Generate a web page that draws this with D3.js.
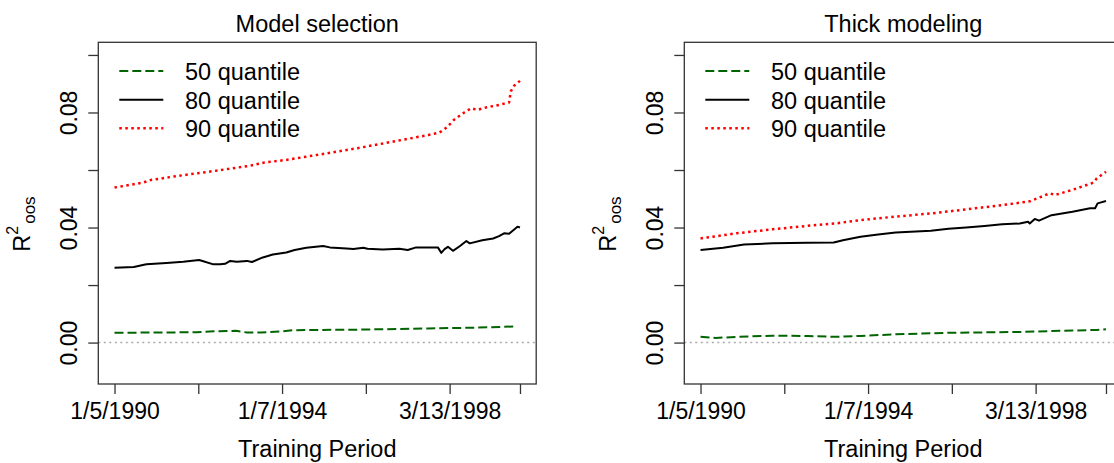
<!DOCTYPE html>
<html>
<head>
<meta charset="utf-8">
<script src="https://cdn.jsdelivr.net/npm/d3@7"></script>
<style>
  body { margin: 0; background: #fff; }
  svg text { font-family: "Liberation Sans", Arial, sans-serif; fill: #000; }
</style>
</head>
<body>
<div id="chart"></div>
<script>
// x positions are observation numbers (0 .. 484) along the training period
var nObs = 484;
var xTickIdx = [0, 100, 200, 300, 400, 484];
var xTickLabels = ["1/5/1990", "", "1/7/1994", "", "3/13/1998", ""];
var yTicks = [0, 0.02, 0.04, 0.06, 0.08, 0.10];
var yTickLabels = ["0.00", "", "0.04", "", "0.08", ""];

var titles = ["Model selection", "Thick modeling"];
var legendLabels = ["50 quantile", "80 quantile", "90 quantile"];

// Model selection
var msIdx50 = [0, 98, 119, 145, 158, 175, 200, 213, 290, 375, 430, 478];
var ms50 = [0.0034, 0.0036, 0.0039, 0.0041, 0.0035, 0.0035, 0.0039, 0.0043, 0.0045, 0.0049, 0.0052, 0.0056];

var msIdx80 = [0, 23, 38, 62, 82, 101, 106, 118, 126, 132, 138, 146, 158, 164, 177, 189, 205, 215, 229, 249, 257, 277, 285, 297, 302, 320, 340, 350, 360, 386, 390, 394, 398, 404, 412, 420, 424, 439, 452, 459, 465, 471, 481, 484];
var ms80 = [0.026, 0.0263, 0.0272, 0.0277, 0.0281, 0.0287, 0.0283, 0.0272, 0.0272, 0.0274, 0.0284, 0.0281, 0.0284, 0.028, 0.0296, 0.0306, 0.0313, 0.0322, 0.033, 0.0336, 0.0331, 0.0327, 0.0325, 0.033, 0.0326, 0.0324, 0.0326, 0.0322, 0.0331, 0.0331, 0.0312, 0.0325, 0.0333, 0.0319, 0.0335, 0.0353, 0.0345, 0.0356, 0.0362, 0.037, 0.038, 0.0378, 0.0403, 0.04];

var msIdx90 = [0, 34, 43, 77, 120, 162, 179, 205, 247, 290, 333, 375, 388, 397, 405, 418, 426, 433, 443, 460, 471, 473, 477, 484];
var ms90 = [0.0539, 0.0556, 0.0565, 0.058, 0.0597, 0.0615, 0.0626, 0.0635, 0.0655, 0.0676, 0.0699, 0.0722, 0.073, 0.0749, 0.0774, 0.0801, 0.0815, 0.0809, 0.0817, 0.0827, 0.0835, 0.0873, 0.0893, 0.091];

// Thick modeling
var tmIdx50 = [0, 18, 43, 86, 128, 161, 191, 233, 296, 381, 444, 473, 484];
var tm50 = [0.002, 0.0016, 0.002, 0.0024, 0.0023, 0.002, 0.0023, 0.0029, 0.0034, 0.0037, 0.0042, 0.0044, 0.0046];

var tmIdx80 = [0, 27, 52, 86, 128, 159, 170, 191, 212, 233, 275, 296, 317, 339, 360, 381, 391, 393, 399, 404, 419, 444, 465, 471, 474, 484];
var tm80 = [0.0322, 0.033, 0.0341, 0.0345, 0.0347, 0.0348, 0.0356, 0.0368, 0.0376, 0.0383, 0.0389, 0.0396, 0.04, 0.0405, 0.0411, 0.0414, 0.042, 0.0414, 0.043, 0.0424, 0.0443, 0.0455, 0.0467, 0.0467, 0.0484, 0.0492];

var tmIdx90 = [0, 43, 86, 128, 161, 191, 233, 275, 317, 360, 393, 417, 423, 444, 469, 473, 484];
var tm90 = [0.0362, 0.038, 0.0394, 0.0406, 0.0414, 0.0426, 0.0438, 0.0449, 0.0463, 0.0478, 0.0491, 0.0519, 0.0513, 0.0531, 0.0556, 0.0571, 0.0594];

var panels = [
  {title: titles[0], series: [[msIdx50, ms50], [msIdx80, ms80], [msIdx90, ms90]]},
  {title: titles[1], series: [[tmIdx50, tm50], [tmIdx80, tm80], [tmIdx90, tm90]]}
];

// line styles: 50 dashed green, 80 solid black, 90 dotted red
var styles = [
  {color: "#006400", width: 2, dash: "9,4"},
  {color: "#000000", width: 2, dash: null},
  {color: "#ff0000", width: 2.5, dash: "2.5,3.5"}
];

var W = 1114, H = 463;
var panelW = 586;
var box = {left: 98.3, right: 536.2, top: 42.3, bottom: 384};

var svg = d3.select("#chart").append("svg")
  .attr("width", W).attr("height", H);

var draw_panel = function(p, k) {
  var g = svg.append("g").attr("transform", "translate(" + (k * panelW) + ",0)");

  // R style axes: range padded by 4% on both ends
  var x = d3.scaleLinear()
    .domain([-0.04 * nObs, nObs * 1.04])
    .range([box.left, box.right]);
  var y = d3.scaleLinear()
    .domain([-0.01 - 0.0044, 0.10 + 0.0044])
    .range([box.bottom, box.top]);

  // zero reference
  g.append("line")
    .attr("x1", box.left).attr("x2", box.right)
    .attr("y1", y(0)).attr("y2", y(0))
    .attr("stroke", "#aaaaaa").attr("stroke-width", 1.5)
    .attr("stroke-dasharray", "2,3.5");

  var line = d3.line()
    .x(function(d) { return x(d[0]); })
    .y(function(d) { return y(d[1]); });

  p.series.forEach(function(s, i) {
    var pts = s[0].map(function(v, j) { return [v, s[1][j]]; });
    var st = styles[i];
    g.append("path")
      .datum(pts)
      .attr("d", line)
      .attr("fill", "none")
      .attr("stroke", st.color)
      .attr("stroke-width", st.width)
      .attr("stroke-linejoin", "round")
      .attr("stroke-dasharray", st.dash);
  });

  // x axis
  var xa = g.append("g")
    .attr("transform", "translate(0," + box.bottom + ")")
    .call(d3.axisBottom(x)
      .tickValues(xTickIdx)
      .tickFormat(function(d, i) { return xTickLabels[i]; })
      .tickSize(10).tickSizeOuter(0));
  xa.select(".domain").remove();
  xa.selectAll("line").attr("stroke", "#333").attr("stroke-width", 1.3);
  xa.selectAll("text")
    .attr("y", 35).attr("dy", 0)
    .attr("font-size", "23px")
    .attr("fill", "#000");

  // y axis, labels parallel to the axis
  var ya = g.append("g")
    .attr("transform", "translate(" + box.left + ",0)")
    .call(d3.axisLeft(y)
      .tickValues(yTicks)
      .tickFormat(function(d, i) { return yTickLabels[i]; })
      .tickSize(10).tickSizeOuter(0));
  ya.select(".domain").remove();
  ya.selectAll("line").attr("stroke", "#333").attr("stroke-width", 1.3);
  ya.selectAll("text")
    .attr("x", 0).attr("dy", 0)
    .attr("text-anchor", "middle")
    .attr("transform", "translate(-21.6,0) rotate(-90)")
    .attr("font-size", "23px")
    .attr("fill", "#000");

  // plot box
  g.append("rect")
    .attr("x", box.left).attr("y", box.top)
    .attr("width", box.right - box.left)
    .attr("height", box.bottom - box.top)
    .attr("fill", "none")
    .attr("stroke", "#333").attr("stroke-width", 1.3);

  var cx = (box.left + box.right) / 2;
  g.append("text")
    .attr("x", cx).attr("y", 31.7)
    .attr("text-anchor", "middle")
    .attr("font-size", "23.5px")
    .text(p.title);

  g.append("text")
    .attr("x", cx).attr("y", 456.7)
    .attr("text-anchor", "middle")
    .attr("font-size", "23.5px")
    .text("Training Period");

  // R^2 with oos subscript
  var yl = g.append("text")
    .attr("transform", "translate(" + (box.left - 68.3) + ",251.7) rotate(-90)")
    .attr("font-size", "23.5px");
  yl.append("tspan").text("R");
  yl.append("tspan").attr("dy", -11.7).attr("font-size", "16px").text("2");
  yl.append("tspan").attr("dy", 16.7).attr("dx", 2).attr("font-size", "17px").text("oos");

  // legend
  var leg = g.append("g");
  legendLabels.forEach(function(lab, i) {
    var st = styles[i];
    var ly = 71 + i * 28.65;
    leg.append("line")
      .attr("x1", box.left + 21).attr("x2", box.left + 65)
      .attr("y1", ly).attr("y2", ly)
      .attr("stroke", st.color).attr("stroke-width", st.width)
      .attr("stroke-dasharray", st.dash);
    leg.append("text")
      .attr("x", box.left + 86.7).attr("y", ly + 9)
      .attr("font-size", "23.5px")
      .text(lab);
  });
};

panels.forEach(draw_panel);
</script>
</body>
</html>
